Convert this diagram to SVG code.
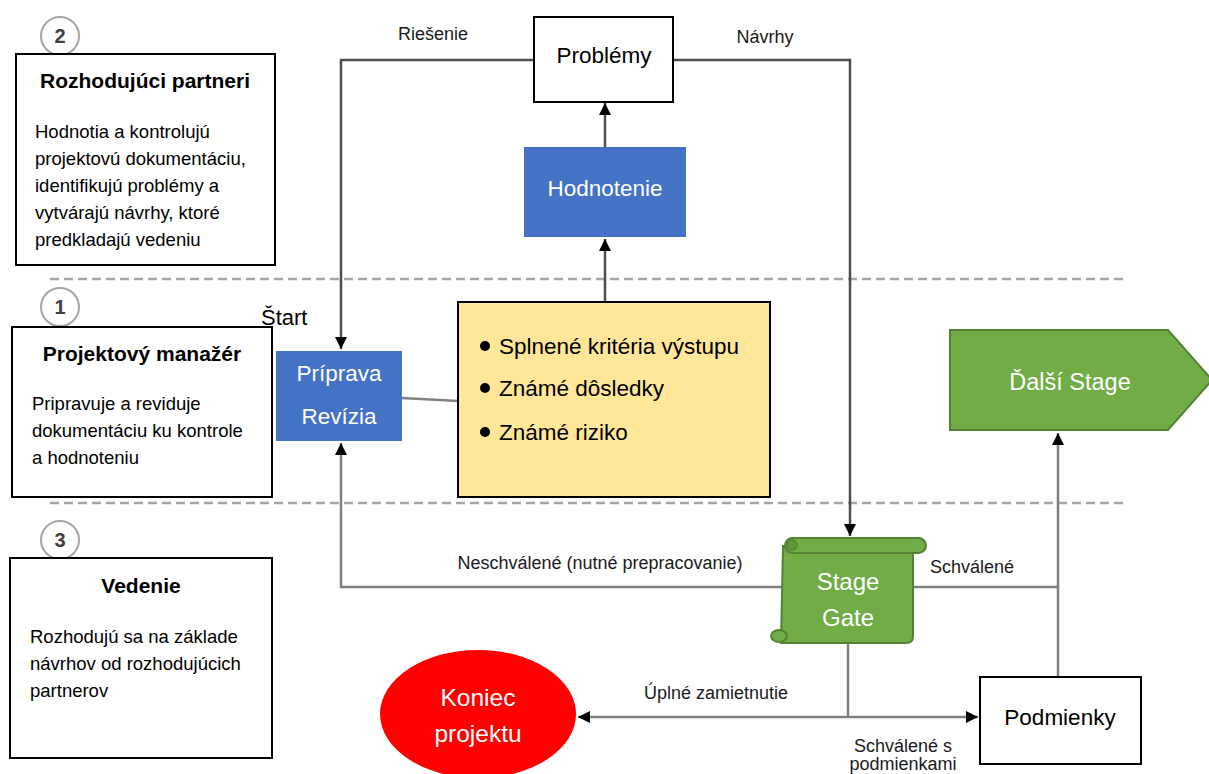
<svg xmlns="http://www.w3.org/2000/svg" width="1209" height="774" viewBox="0 0 1209 774">
<defs>
<marker id="arr" markerUnits="userSpaceOnUse" markerWidth="14" markerHeight="14" refX="12" refY="6" orient="auto">
<path d="M0,0 L12,6 L0,12 Z" fill="#000"/>
</marker>
<style>
text{font-family:"Liberation Sans",Arial,sans-serif;}
.box{fill:#fff;stroke:#000;stroke-width:2;}
.title{font-size:21px;font-weight:bold;fill:#000;text-anchor:middle;}
.body{font-size:18.5px;fill:#000;}
.num{font-size:20px;font-weight:bold;fill:#404040;text-anchor:middle;}
.numc{fill:#fff;stroke:#a6a6a6;stroke-width:2;}
.blue{fill:#4472c4;}
.wt{fill:#fff;font-size:22.5px;text-anchor:middle;}
.lbl{font-size:18px;fill:#1a1a1a;text-anchor:middle;}
.dash{stroke:#a6a6a6;stroke-width:2.5;stroke-dasharray:9,5;fill:none;}
.c1{fill:none;stroke:#4d4d4d;stroke-width:2.5;}
.c2{fill:none;stroke:#808080;stroke-width:2.5;}
.green{fill:#70ad47;stroke:#548235;stroke-width:2;}
</style>
</defs>

<line class="dash" x1="50" y1="279" x2="1126" y2="279"/>
<line class="dash" x1="50" y1="503" x2="1126" y2="503"/>

<g id="connectors">
<path class="c1" d="M534,60 H341 V349" marker-end="url(#arr)"/>
<path class="c1" d="M673,60 H850 V536" marker-end="url(#arr)"/>
<path class="c1" d="M605,147 V103" marker-end="url(#arr)"/>
<path class="c1" d="M605,302 V239" marker-end="url(#arr)"/>
<path class="c2" d="M402,398 L458,401"/>
<path class="c2" d="M783,587 H341 V443" marker-end="url(#arr)"/>
<path class="c2" d="M913,587 H1058"/>
<path class="c2" d="M1058,677 V433" marker-end="url(#arr)"/>
<path class="c2" d="M848,644 V717"/>
<path class="c2" d="M848,717 H578" marker-end="url(#arr)"/>
<path class="c2" d="M848,717 H978" marker-end="url(#arr)"/>
<text class="lbl" x="433" y="40">Riešenie</text>
<text class="lbl" x="765" y="43">Návrhy</text>
<text class="lbl" x="600" y="569">Neschválené (nutné prepracovanie)</text>
<text class="lbl" x="972" y="573">Schválené</text>
<text class="lbl" x="716" y="699">Úplné zamietnutie</text>
<text class="lbl" x="903" y="752">Schválené s</text>
<text class="lbl" x="903" y="770">podmienkami</text>
</g>

<g id="num2"><circle class="numc" cx="60" cy="36" r="19"/><text class="num" x="60" y="43">2</text></g>
<g id="num1"><circle class="numc" cx="60" cy="307" r="19"/><text class="num" x="60" y="314">1</text></g>
<g id="num3"><circle class="numc" cx="60" cy="540" r="19"/><text class="num" x="60" y="547">3</text></g>

<g id="rozhodujuci">
<rect class="box" x="16" y="54" width="259" height="211"/>
<text class="title" x="145" y="88">Rozhodujúci partneri</text>
<text class="body" x="35" y="138">Hodnotia a kontrolujú</text>
<text class="body" x="35" y="165">projektovú dokumentáciu,</text>
<text class="body" x="35" y="192">identifikujú problémy a</text>
<text class="body" x="35" y="219">vytvárajú návrhy, ktoré</text>
<text class="body" x="35" y="246">predkladajú vedeniu</text>
</g>

<g id="manazer">
<rect class="box" x="12" y="327" width="260" height="170"/>
<text class="title" x="142" y="361">Projektový manažér</text>
<text class="body" x="32" y="410">Pripravuje a reviduje</text>
<text class="body" x="32" y="437">dokumentáciu ku kontrole</text>
<text class="body" x="32" y="464">a hodnoteniu</text>
</g>

<g id="vedenie">
<rect class="box" x="10" y="558" width="262" height="200"/>
<text class="title" x="141" y="593">Vedenie</text>
<text class="body" x="30" y="643">Rozhodujú sa na základe</text>
<text class="body" x="30" y="670">návrhov od rozhodujúcich</text>
<text class="body" x="30" y="697">partnerov</text>
</g>

<g id="start"><text x="261" y="325" font-size="22" fill="#000">Štart</text></g>

<g id="priprava">
<rect class="blue" x="276" y="351" width="126" height="90"/>
<text class="wt" x="339" y="381">Príprava</text>
<text class="wt" x="339" y="424">Revízia</text>
</g>

<g id="kriteria">
<rect x="458" y="302" width="312" height="195" fill="#ffe699" stroke="#000" stroke-width="2"/>
<circle cx="485" cy="346" r="5" fill="#000"/>
<circle cx="485" cy="388" r="5" fill="#000"/>
<circle cx="485" cy="432" r="5" fill="#000"/>
<text x="499" y="354" font-size="22.5" fill="#000">Splnené kritéria výstupu</text>
<text x="499" y="396" font-size="22.5" fill="#000">Známé dôsledky</text>
<text x="499" y="440" font-size="22.5" fill="#000">Známé riziko</text>
</g>

<g id="hodnotenie">
<rect class="blue" x="524" y="147" width="162" height="90"/>
<text class="wt" x="605" y="196" font-size="23">Hodnotenie</text>
</g>

<g id="problemy">
<rect class="box" x="534" y="17" width="139" height="85"/>
<text x="604" y="63" font-size="22.5" fill="#000" text-anchor="middle">Problémy</text>
</g>

<g id="stagegate">
<path class="green" d="M783,546 H913 V636 Q913,643 906,643 H781 Z"/>
<ellipse class="green" cx="779" cy="636" rx="8" ry="6"/>
<rect class="green" x="785" y="538" width="141" height="15" rx="7.5"/>
<circle cx="792" cy="545" r="5" fill="#5f9a3a" stroke="#548235" stroke-width="1.5"/>
<text x="848" y="590" font-size="24" fill="#fff" text-anchor="middle">Stage</text>
<text x="848" y="626" font-size="24" fill="#fff" text-anchor="middle">Gate</text>
</g>

<g id="dalsi">
<path class="green" d="M950,330 H1168 L1212,380 L1168,430 H950 Z"/>
<text x="1070" y="390" font-size="23.5" fill="#fff" text-anchor="middle">Ďalší Stage</text>
</g>

<g id="koniec">
<ellipse cx="478" cy="714" rx="98" ry="64" fill="#ff0000"/>
<text x="478" y="706" font-size="24.5" fill="#fff" text-anchor="middle">Koniec</text>
<text x="478" y="742" font-size="24.5" fill="#fff" text-anchor="middle">projektu</text>
</g>

<g id="podmienky">
<rect class="box" x="980" y="677" width="161" height="87"/>
<text x="1060" y="725" font-size="22.5" fill="#000" text-anchor="middle">Podmienky</text>
</g>
</svg>
